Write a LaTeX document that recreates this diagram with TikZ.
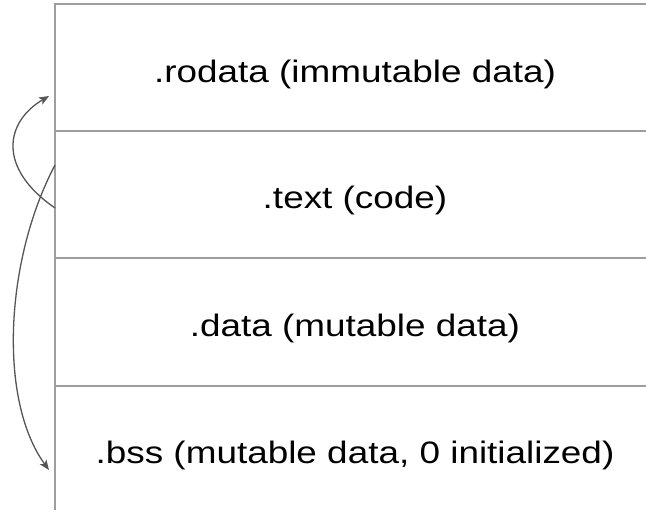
\documentclass[tikz,border=0pt]{standalone}
\usepackage{fontspec}
\setmainfont{Liberation Sans}[FakeStretch=1.19]
\usepackage{tikz}
\usetikzlibrary{arrows.meta}
\definecolor{my_linegray}{HTML}{9E9E9E}
\definecolor{my_arrowgray}{HTML}{555555}

\begin{document}
\begin{tikzpicture}[
    x=1pt, y=-1pt,
    section/.style={anchor=base, inner sep=0pt, font=\fontsize{31}{37}\selectfont},
    border/.style={my_linegray, line width=2pt},
    jump/.style={my_arrowgray, line width=1.3pt,
        -{Stealth[length=10pt, width=8pt, inset=2.5pt]}}
]
\useasboundingbox (0,0) rectangle (646,512);

% Section borders: no right edge, no bottom edge
\draw[border] (55,510) -- (55,3.5) -- (646,3.5);
\draw[border] (55,131) -- (646,131);
\draw[border] (55,258) -- (646,258);
\draw[border] (55,386) -- (646,386);

% Section labels (baseline about 78 below each top border)
\node[section] (rodata) at (355,82)  {.rodata (immutable data)};
\node[section] (text)   at (355,208) {.text (code)};
\node[section] (data)   at (355,336) {.data (mutable data)};
\node[section] (bss)    at (355,463) {.bss (mutable data, 0 initialized)};

% Ends of the references on the left edge
\coordinate (text_low)  at (55,208);
\coordinate (text_high) at (55,165);
\coordinate (rodata_in) at (49,96);
\coordinate (bss_in)    at (49,470);

% .text -> .rodata
\draw[jump] (text_low) .. controls (-3,168) and (5,122) .. (rodata_in);
% .text -> .bss
\draw[jump] (text_high) .. controls (5,260) and (-2,400) .. (bss_in);

\end{tikzpicture}
\end{document}
